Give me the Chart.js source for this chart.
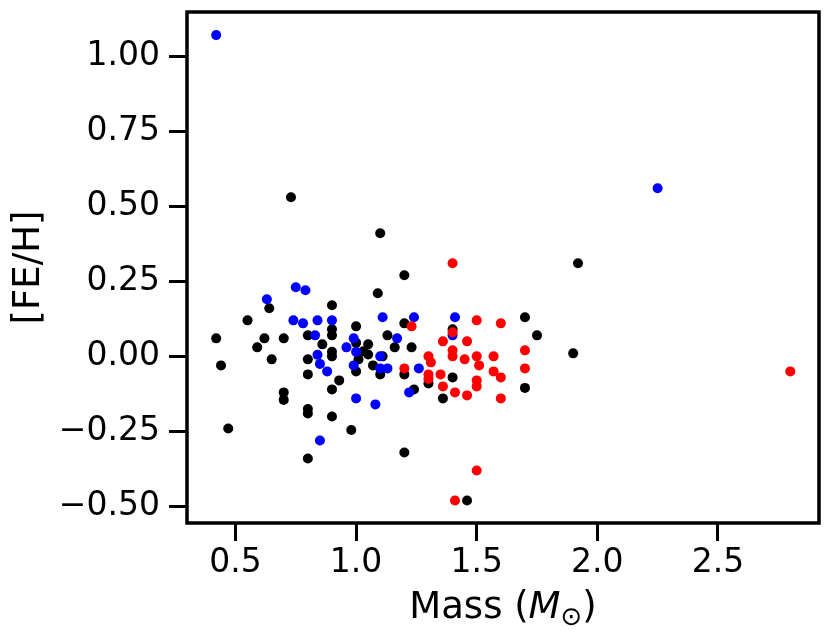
<!DOCTYPE html>
<html>
<head>
<meta charset="utf-8">
<script src="https://cdn.jsdelivr.net/npm/chart.js@4.4.0/dist/chart.umd.min.js"></script>
<style>
    html, body { margin: 0; padding: 0; background: #fff; }
    #wrap { width: 831px; height: 640px; }
</style>
</head>
<body>
<div id="wrap"><canvas id="chartMassFeh"></canvas></div>
<script>
// black sample
const massBlack = [0.73, 1.10, 1.20, 1.09, 0.64, 0.90, 0.55, 1.20, 1.00, 0.90,
    0.90, 0.80, 1.13, 0.42, 0.62, 0.70, 0.59, 0.86, 1.00, 1.05,
    1.16, 1.23, 1.03, 1.05, 0.90, 0.90, 1.11, 0.80, 0.65, 1.01,
    0.44, 1.07, 1.00, 1.10, 1.20, 0.80, 0.93, 0.90, 0.70, 0.70,
    0.80, 0.80, 0.90, 0.47, 0.98, 0.80, 1.20, 1.24, 1.30, 1.40,
    1.36, 1.40, 1.46, 1.70, 1.75, 1.90, 1.92, 1.70];
const fehBlack = [0.53, 0.41, 0.27, 0.21, 0.16, 0.17, 0.12, 0.11, 0.10, 0.09,
    0.07, 0.07, 0.07, 0.06, 0.06, 0.06, 0.03, 0.04, 0.045, 0.04,
    0.03, 0.03, 0.017, 0.006, 0.015, 0.00, 0.00, -0.01, -0.01, -0.01,
    -0.03, -0.03, -0.05, -0.06, -0.06, -0.06, -0.08, -0.11, -0.12, -0.145,
    -0.175, -0.19, -0.20, -0.24, -0.245, -0.34, -0.32, -0.11, -0.09, -0.07,
    -0.14, 0.09, -0.48, 0.13, 0.07, 0.01, 0.31, -0.105];

// blue sample
const massBlue = [0.42, 2.25, 0.63, 0.75, 0.79, 0.74, 0.78, 0.84, 0.90, 1.11,
    1.24, 1.41, 0.83, 1.17, 0.99, 0.96, 1.00, 0.84, 1.10, 0.85,
    0.99, 0.88, 1.10, 1.13, 1.26, 1.22, 1.00, 1.08, 0.85, 1.40];
const fehBlue = [1.07, 0.56, 0.19, 0.23, 0.22, 0.12, 0.11, 0.12, 0.12, 0.13,
    0.13, 0.13, 0.07, 0.06, 0.06, 0.03, 0.015, 0.005, 0.00, -0.025,
    -0.03, -0.05, -0.04, -0.04, -0.04, -0.12, -0.14, -0.16, -0.28, 0.07];

// red sample
const massRed = [1.40, 1.23, 1.50, 1.60, 1.40, 1.36, 1.46, 1.40, 1.40, 1.30,
    1.31, 1.45, 1.50, 1.57, 1.51, 1.70, 1.70, 1.57, 1.60, 1.20,
    1.30, 1.30, 1.35, 1.50, 1.50, 1.36, 1.41, 1.46, 1.60, 1.50,
    1.41, 2.80];
const fehRed = [0.31, 0.10, 0.12, 0.11, 0.08, 0.05, 0.05, 0.02, 0.00, 0.00,
    -0.02, -0.01, 0.00, 0.00, -0.03, 0.02, -0.04, -0.05, -0.07, -0.04,
    -0.06, -0.075, -0.06, -0.08, -0.10, -0.10, -0.12, -0.13, -0.14, -0.38,
    -0.48, -0.05];

const xTicks = [0.5, 1.0, 1.5, 2.0, 2.5];
const yTicks = [-0.5, -0.25, 0, 0.25, 0.5, 0.75, 1.0];

(function() {
    'use strict';

    const FONT = 'DejaVu Sans';

    function pontos(xs, ys) {
        return xs.map((x, i) => ({ x: x, y: ys[i] }));
    }

    function rotulo(v, casas) {
        return v.toFixed(casas).replace('-', '\u2212');
    }

    // moldura completa do eixo
    const moldura = {
        id: 'moldura',
        afterDraw(chart) {
            const { ctx, chartArea: a } = chart;
            ctx.save();
            ctx.strokeStyle = '#000';
            ctx.lineWidth = 3.5;
            ctx.strokeRect(a.left, a.top, a.right - a.left, a.bottom - a.top);
            ctx.restore();
        }
    };

    // titulo do eixo x com M italico e simbolo solar subscrito
    const tituloX = {
        id: 'tituloX',
        afterDraw(chart) {
            const { ctx, chartArea: a } = chart;
            const partes = [
                { t: 'Mass (', f: '37px "' + FONT + '"', dy: 0 },
                { t: 'M', f: 'oblique 37px "' + FONT + '"', dy: 0 },
                { t: '\u2299', f: '26px "' + FONT + '"', dy: 7 },
                { t: ')', f: '37px "' + FONT + '"', dy: 0 }
            ];
            ctx.save();
            ctx.fillStyle = '#000';
            ctx.textBaseline = 'alphabetic';
            ctx.textAlign = 'left';
            let total = 0;
            partes.forEach(p => {
                ctx.font = p.f;
                p.w = ctx.measureText(p.t).width;
                total += p.w;
            });
            let x = (a.left + a.right) / 2 - total / 2;
            const base = 618;
            partes.forEach(p => {
                ctx.font = p.f;
                ctx.fillText(p.t, x, base + p.dy);
                x += p.w;
            });
            ctx.restore();
        }
    };

    function eixo(min, max, valores, casas, extra) {
        return Object.assign({
            type: 'linear',
            min: min,
            max: max,
            afterBuildTicks: s => { s.ticks = valores.map(v => ({ value: v })); },
            ticks: {
                color: '#000',
                font: { family: FONT, size: 33 },
                autoSkip: false,
                maxRotation: 0,
                callback: v => rotulo(v, casas)
            },
            grid: {
                display: true,
                drawOnChartArea: false,
                drawTicks: true,
                tickLength: 18,
                tickWidth: 3,
                tickColor: '#000'
            },
            border: { display: false }
        }, extra);
    }

    const xScale = eixo(0.299, 2.919, xTicks, 1, {
        afterFit: s => {
            s.height = 117;
            s.paddingLeft = 0;
            s.paddingRight = 0;
        }
    });
    xScale.ticks.padding = 3;

    const yScale = eixo(-0.555, 1.147, yTicks, 2, {
        afterFit: s => {
            s.width = 187;
            s.paddingTop = 0;
            s.paddingBottom = 0;
        },
        title: {
            display: true,
            text: '[FE/H]',
            color: '#000',
            font: { family: FONT, size: 37 },
            padding: { top: 7, bottom: 0 }
        }
    });
    yScale.ticks.padding = 9;

    new Chart(document.getElementById('chartMassFeh').getContext('2d'), {
        type: 'scatter',
        data: {
            datasets: [
                { data: pontos(massBlack, fehBlack), backgroundColor: '#000000', order: 3 },
                { data: pontos(massBlue, fehBlue), backgroundColor: '#0000ff', order: 2 },
                { data: pontos(massRed, fehRed), backgroundColor: '#ff0000', order: 1 }
            ]
        },
        options: {
            responsive: true,
            maintainAspectRatio: false,
            animation: false,
            layout: { padding: { left: 0, right: 12, top: 12, bottom: 0 } },
            elements: {
                point: { radius: 5, borderWidth: 0, hoverRadius: 5 }
            },
            plugins: {
                legend: { display: false },
                tooltip: { enabled: false }
            },
            scales: { x: xScale, y: yScale }
        },
        plugins: [moldura, tituloX]
    });
})();
</script>
</body>
</html>
